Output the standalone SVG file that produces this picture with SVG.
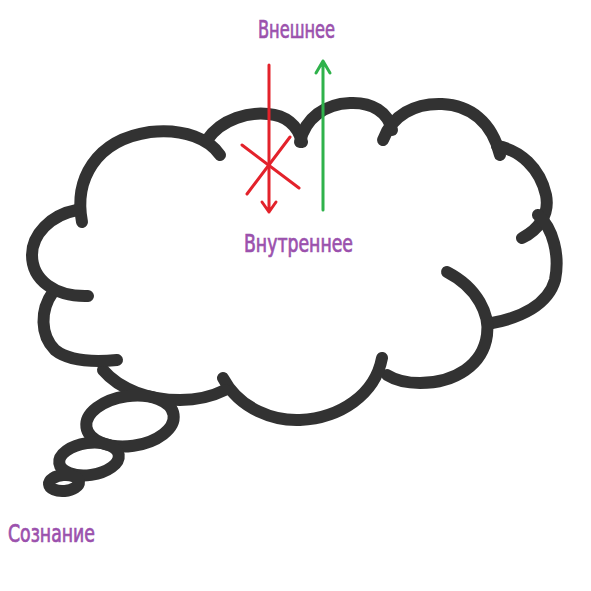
<svg xmlns="http://www.w3.org/2000/svg" width="591" height="591" viewBox="0 0 591 591">
<style>
.c{fill:none;stroke:#323232;stroke-width:12;stroke-linecap:round;stroke-linejoin:round}
.t{font-family:"Liberation Sans Narrow","DejaVu Sans Condensed","Liberation Sans",sans-serif;font-size:24px;fill:#9b51ad;stroke:#9b51ad;stroke-width:0.7}
.r{stroke:#e3222b;stroke-width:3;fill:none;stroke-linecap:round;stroke-linejoin:round}
.g{stroke:#2fb24b;stroke-width:3;fill:none;stroke-linecap:round;stroke-linejoin:round}
</style>
<rect width="591" height="591" fill="#fff"/>
<g id="cloud">
<path class="c" d="M82,222 C74,180 95,140 150,132 C185,128 210,140 220,155"/>
<path class="c" d="M207,140 C222,118 250,112 268,114 C285,115 298,125 302,142"/>
<path class="c" d="M300,142 C305,118 325,104 350,103 C372,102 388,112 392,130"/>
<path class="c" d="M383,140 C392,115 415,103 442,104 C470,105 492,122 500,155"/>
<path class="c" d="M497,146 C520,150 540,168 546,195 C550,215 538,230 522,238"/>
<path class="c" d="M538,215 C553,228 560,255 555,280 C548,305 520,318 492,323"/>
<path class="c" d="M447,272 C478,288 490,315 487,335 C483,365 455,383 420,383 C405,383 395,380 387,375"/>
<path class="c" d="M223,378 C240,410 275,421 300,420 C340,418 375,395 382,358"/>
<path class="c" d="M103,370 C120,390 150,400 180,400 C200,400 215,395 225,390"/>
<path class="c" d="M53,292 C40,310 40,335 55,350 C70,362 95,362 117,360"/>
<path class="c" d="M77,210 C50,215 32,235 32,255 C32,280 55,297 88,296"/>
</g>
<g id="bubbles">
<ellipse class="c" cx="130" cy="421" rx="44" ry="25" transform="rotate(-8 130 421)"/>
<ellipse class="c" cx="89" cy="459" rx="30" ry="16" transform="rotate(-8 89 459)"/>
<ellipse class="c" cx="64" cy="483" rx="15" ry="8" stroke-width="11" transform="rotate(-5 64 483)"/>
</g>
<g id="connectors">
<path class="r" d="M269,65 L269,212 M262,202 L269,212 L276,202"/>
<path class="r" d="M242,145 L299,188 M290,137 L247,194"/>
<path class="g" d="M323,210 L323,61 M316,73 L323,61 L330,73"/>
</g>
<g id="labels">
<text class="t" x="258" y="38" textLength="77" lengthAdjust="spacingAndGlyphs">Внешнее</text>
<text class="t" x="244" y="252" textLength="109" lengthAdjust="spacingAndGlyphs">Внутреннее</text>
<text class="t" x="8" y="542" textLength="87" lengthAdjust="spacingAndGlyphs">Сознание</text>
</g>
</svg>
